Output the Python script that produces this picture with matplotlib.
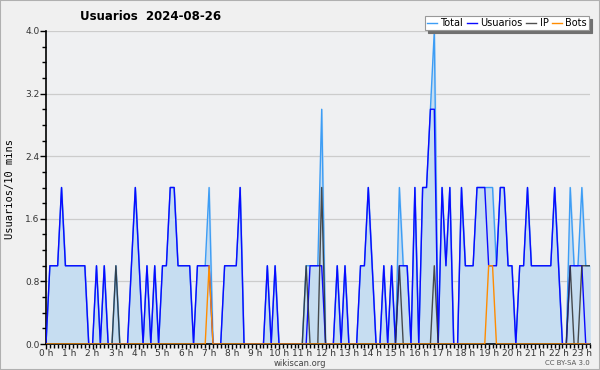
import matplotlib
matplotlib.use('Agg')
import matplotlib.pyplot as plt
from matplotlib.ticker import MultipleLocator, FixedLocator
from matplotlib.patches import Rectangle
import numpy as np

# users per 10 min slot, 2024-08-26 (slot 0 = 0:00)
total = [0, 1, 1, 1, 2, 1, 1, 1, 1, 1, 1, 0,
         0, 1, 0, 1, 0, 0, 1, 0, 0, 0, 1, 2,
         1, 0, 1, 0, 1, 0, 1, 1, 2, 2, 1, 1,
         1, 1, 0, 1, 1, 1, 2, 0, 0, 0, 1, 1,
         1, 1, 2, 0, 0, 0, 0, 0, 0, 1, 0, 1,
         0, 0, 0, 0, 0, 0, 0, 1, 1, 1, 1, 3,
         0, 0, 0, 1, 0, 1, 0, 0, 0, 1, 1, 2,
         1, 0, 0, 1, 0, 1, 0, 2, 1, 1, 0, 2,
         0, 2, 2, 3, 4, 0, 2, 1, 2, 0, 0, 2,
         1, 1, 1, 2, 2, 2, 2, 2, 1, 2, 2, 1,
         1, 0, 1, 1, 2, 1, 1, 1, 1, 1, 1, 2,
         1, 0, 0, 2, 1, 1, 2, 1, 1]
usuarios = [0, 1, 1, 1, 2, 1, 1, 1, 1, 1, 1, 0,
            0, 1, 0, 1, 0, 0, 0, 0, 0, 0, 1, 2,
            1, 0, 1, 0, 1, 0, 1, 1, 2, 2, 1, 1,
            1, 1, 0, 1, 1, 1, 1, 0, 0, 0, 1, 1,
            1, 1, 2, 0, 0, 0, 0, 0, 0, 1, 0, 1,
            0, 0, 0, 0, 0, 0, 0, 0, 1, 1, 1, 1,
            0, 0, 0, 1, 0, 1, 0, 0, 0, 1, 1, 2,
            1, 0, 0, 1, 0, 1, 0, 1, 1, 1, 0, 2,
            0, 2, 2, 3, 3, 0, 2, 1, 2, 0, 0, 2,
            1, 1, 1, 2, 2, 2, 1, 1, 1, 2, 2, 1,
            1, 0, 1, 1, 2, 1, 1, 1, 1, 1, 1, 2,
            1, 0, 0, 1, 1, 1, 1, 0, 0]
ip = [0] * 141
for slot, v in [(18, 1), (67, 1), (71, 2), (91, 1), (100, 1),
                (135, 1), (138, 1), (139, 1), (140, 1)]:
    ip[slot] = v
bots = [0] * 141
for slot, v in [(42, 1), (114, 1), (115, 1)]:
    bots[slot] = v

hours = list(range(24))
hour_labels = [f"{h} h" for h in hours]
y_ticks = [0.0, 0.8, 1.6, 2.4, 3.2, 4.0]

x = np.arange(len(total))

fig = plt.figure(figsize=(6, 3.7), dpi=100, facecolor='#f0f0f0')
fig.patches.append(Rectangle((0, 0), 1, 1, transform=fig.transFigure,
                             fill=False, edgecolor='#b0b0b0', linewidth=1.5))
ax = fig.add_axes([46 / 600, 26 / 370, 544 / 600, 313 / 370])
ax.set_facecolor('#eff0f2')

ax.fill_between(x, total, color='#c6ddf1', zorder=1)
ax.plot(x, total, color='#3d9df5', lw=1.0, label='Total', zorder=2)
ax.plot(x, usuarios, color='#0a0aff', lw=1.0, label='Usuarios', zorder=3)
ax.plot(x, ip, color='#303030', lw=1.0, alpha=0.85, label='IP', zorder=4)
ax.plot(x, bots, color='#ff8c00', lw=1.0, label='Bots', zorder=5)

ax.set_xlim(0, 140.1)
ax.set_ylim(0, 4.0)
ax.set_yticks(y_ticks)
ax.set_yticklabels([f"{v:.1f}" for v in y_ticks], fontsize=6.5, color='#333333')
ax.yaxis.set_minor_locator(MultipleLocator(0.2))
ax.xaxis.set_major_locator(FixedLocator([h * 6 for h in hours]))
ax.xaxis.set_minor_locator(MultipleLocator(1))
ax.set_xticklabels(hour_labels, fontsize=6.5, color='#333333')
ax.tick_params(axis='both', which='major', direction='out', length=4, width=1, pad=0.5)
ax.tick_params(axis='x', which='major', length=3.5, pad=0)
ax.tick_params(axis='both', which='minor', direction='out', length=3, width=1)
ax.grid(axis='y', which='major', color='#cccccc', lw=0.9)
ax.set_axisbelow(True)

for s in ['top', 'right']:
    ax.spines[s].set_visible(False)
for s in ['left', 'bottom']:
    ax.spines[s].set_color('black')
    ax.spines[s].set_linewidth(1.2)

fig.text(10 / 600, 1 - 189 / 370, 'Usuarios/10 mins', family='DejaVu Sans Mono',
         fontsize=7.5, rotation=90, ha='center', va='center')
fig.text(151 / 600, 1 - 17 / 370, 'Usuarios  2024-08-26', ha='center', va='center',
         fontsize=8.5, fontweight='bold')

leg = ax.legend(loc='upper right', bbox_to_anchor=(589 / 600, 1 - 16 / 370),
                bbox_transform=fig.transFigure, ncol=4, fontsize=7,
                handlelength=1.0, handletextpad=0.35, columnspacing=0.4,
                borderpad=0.2, borderaxespad=0, fancybox=False,
                shadow={'color': '#707070', 'alpha': 1},
                framealpha=1, edgecolor='#999999')
leg.get_frame().set_linewidth(0.8)
leg.set_zorder(10)

fig.text(300 / 600, 1 - 363.5 / 370, 'wikiscan.org', ha='center', va='center',
         fontsize=6, color='#444444')
fig.text(590 / 600, 1 - 363 / 370, 'CC BY-SA 3.0', ha='right', va='center',
         fontsize=5, color='#555555')

fig.savefig('out.png', dpi=100, facecolor=fig.get_facecolor())
